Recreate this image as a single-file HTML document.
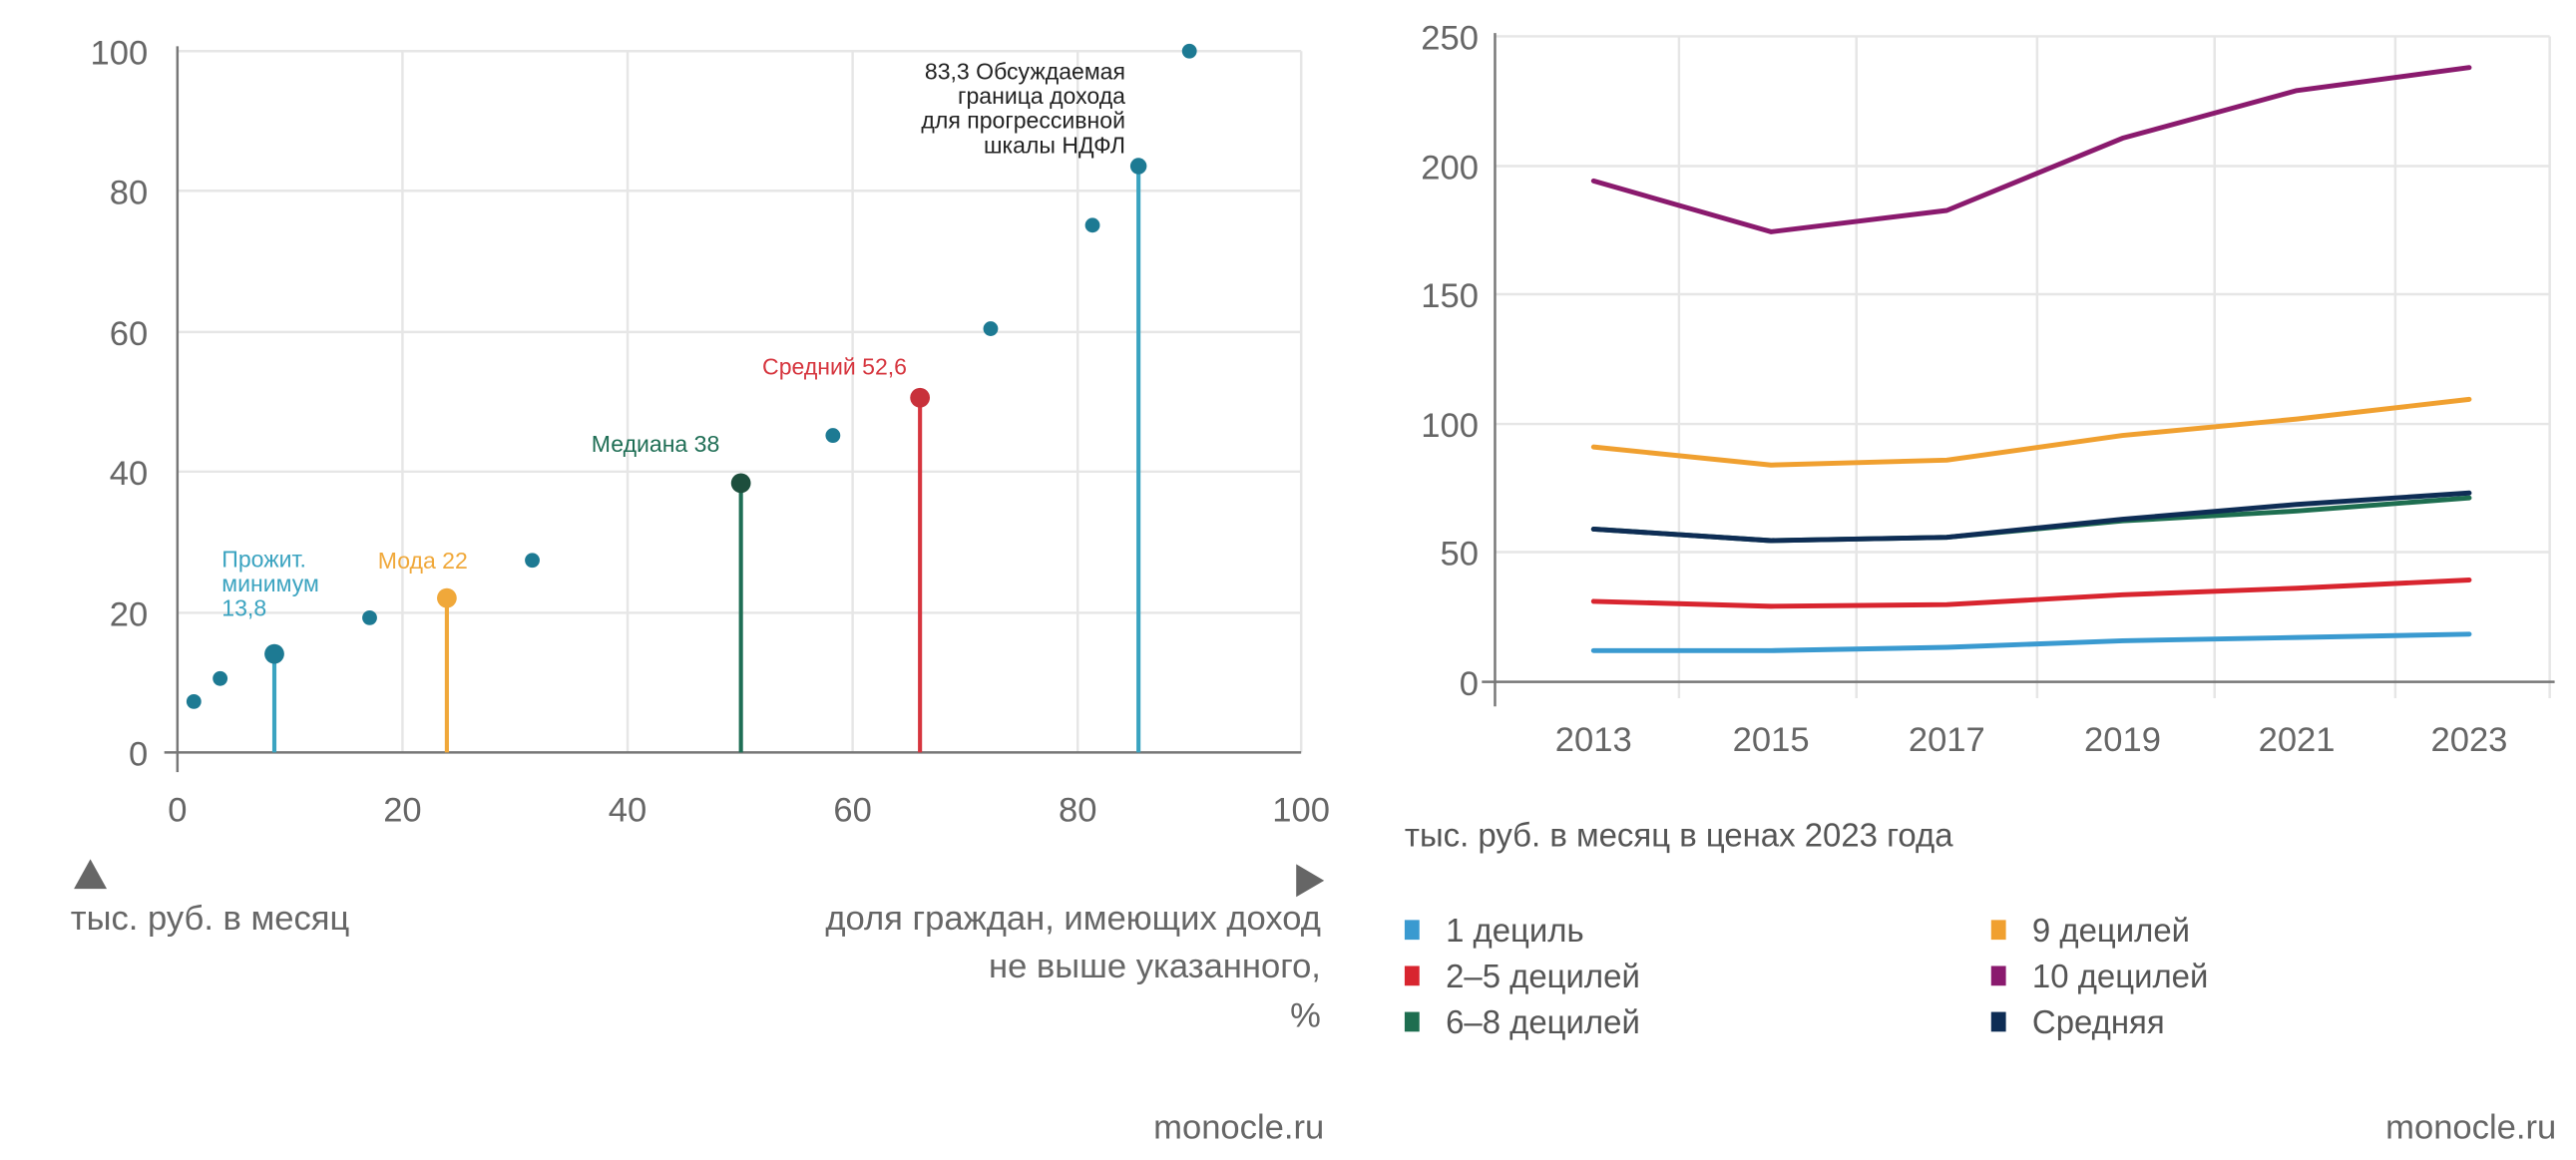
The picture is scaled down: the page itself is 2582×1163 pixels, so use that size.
<!DOCTYPE html>
<html><head><meta charset="utf-8"><style>
html,body{margin:0;padding:0;background:#fff;}
svg{display:block;}
text{font-family:"Liberation Sans","DejaVu Sans",sans-serif;}
</style></head><body>
<svg width="2582" height="1163" viewBox="0 0 1568 706" xmlns="http://www.w3.org/2000/svg">
<rect width="1568" height="706" fill="#fff"/>
<!-- LEFT CHART -->
<g stroke="#e6e6e6" stroke-width="1.5">
<line x1="108" y1="31" x2="792" y2="31"/><line x1="108" y1="116" x2="792" y2="116"/>
<line x1="108" y1="202" x2="792" y2="202"/><line x1="108" y1="287" x2="792" y2="287"/>
<line x1="108" y1="373" x2="792" y2="373"/>
<line x1="245" y1="31" x2="245" y2="458"/><line x1="382" y1="31" x2="382" y2="458"/>
<line x1="519" y1="31" x2="519" y2="458"/><line x1="656" y1="31" x2="656" y2="458"/>
<line x1="792" y1="31" x2="792" y2="458"/>
</g>
<line x1="108" y1="28" x2="108" y2="470" stroke="#777" stroke-width="1.5"/>
<line x1="100" y1="458" x2="792" y2="458" stroke="#777" stroke-width="1.5"/>
<g font-size="21" fill="#666" text-anchor="end">
<text x="90" y="39">100</text><text x="90" y="124">80</text><text x="90" y="210">60</text>
<text x="90" y="295">40</text><text x="90" y="381">20</text><text x="90" y="466">0</text>
</g>
<g font-size="21" fill="#666" text-anchor="middle">
<text x="108" y="500">0</text><text x="245" y="500">20</text><text x="382" y="500">40</text>
<text x="519" y="500">60</text><text x="656" y="500">80</text><text x="792" y="500">100</text>
</g>
<!-- stems -->
<line x1="167" y1="398" x2="167" y2="458" stroke="#3aa3c0" stroke-width="2.5"/>
<line x1="272" y1="364" x2="272" y2="458" stroke="#f0a83a" stroke-width="2.5"/>
<line x1="451" y1="294" x2="451" y2="458" stroke="#1f6e55" stroke-width="2.5"/>
<line x1="560" y1="242" x2="560" y2="458" stroke="#d6353e" stroke-width="2.5"/>
<line x1="693" y1="101" x2="693" y2="458" stroke="#3aa3c0" stroke-width="2.5"/>
<g fill="#1d7a93">
<circle cx="118" cy="427" r="4.5"/><circle cx="134" cy="413" r="4.5"/>
<circle cx="167" cy="398" r="6"/><circle cx="225" cy="376" r="4.5"/>
<circle cx="324" cy="341" r="4.5"/><circle cx="507" cy="265" r="4.5"/>
<circle cx="603" cy="200" r="4.5"/><circle cx="665" cy="137" r="4.5"/>
<circle cx="693" cy="101" r="5"/><circle cx="724" cy="31" r="4.5"/>
</g>
<circle cx="272" cy="364" r="6" fill="#f0a83a"/>
<circle cx="451" cy="294" r="6" fill="#1d4e3d"/>
<circle cx="560" cy="242" r="6" fill="#c8313b"/>
<g font-size="14">
<text x="135" y="345" fill="#3aa3c0">Прожит.</text>
<text x="135" y="360" fill="#3aa3c0">минимум</text>
<text x="135" y="375" fill="#3aa3c0">13,8</text>
<text x="230" y="346" fill="#f0a83a">Мода 22</text>
<text x="360" y="275" fill="#1f6e55">Медиана 38</text>
<text x="464" y="228" fill="#d6353e">Средний 52,6</text>
<g text-anchor="end" fill="#222">
<text x="685" y="48">83,3 Обсуждаемая</text>
<text x="685" y="63">граница дохода</text>
<text x="685" y="78">для прогрессивной</text>
<text x="685" y="93">шкалы НДФЛ</text>
</g>
</g>
<polygon points="45,541 55,523 65,541" fill="#666"/>
<polygon points="789,526 806,536 789,546" fill="#666"/>
<g font-size="21" fill="#666">
<text x="43" y="566">тыс. руб. в месяц</text>
<g text-anchor="end">
<text x="804" y="566">доля граждан, имеющих доход</text>
<text x="804" y="595">не выше указанного,</text>
<text x="804" y="625">%</text>
<text x="806" y="693">monocle.ru</text>
</g>
</g>
<!-- RIGHT CHART -->
<g stroke="#e6e6e6" stroke-width="1.5">
<line x1="910" y1="22" x2="1552" y2="22"/><line x1="910" y1="101" x2="1552" y2="101"/>
<line x1="910" y1="179" x2="1552" y2="179"/><line x1="910" y1="258" x2="1552" y2="258"/>
<line x1="910" y1="336" x2="1552" y2="336"/>
<line x1="1022" y1="22" x2="1022" y2="425"/><line x1="1130" y1="22" x2="1130" y2="425"/>
<line x1="1240" y1="22" x2="1240" y2="425"/><line x1="1348" y1="22" x2="1348" y2="425"/>
<line x1="1458" y1="22" x2="1458" y2="425"/><line x1="1552" y1="22" x2="1552" y2="425"/>
</g>
<line x1="910" y1="20" x2="910" y2="430" stroke="#777" stroke-width="1.5"/>
<line x1="902" y1="415" x2="1555" y2="415" stroke="#777" stroke-width="1.5"/>
<g font-size="21" fill="#666" text-anchor="end">
<text x="900" y="30">250</text><text x="900" y="109">200</text><text x="900" y="187">150</text>
<text x="900" y="266">100</text><text x="900" y="344">50</text><text x="900" y="423">0</text>
</g>
<g font-size="21" fill="#666" text-anchor="middle">
<text x="970" y="457">2013</text><text x="1078" y="457">2015</text><text x="1185" y="457">2017</text>
<text x="1292" y="457">2019</text><text x="1398" y="457">2021</text><text x="1503" y="457">2023</text>
</g>
<g fill="none" stroke-width="3" stroke-linejoin="round" stroke-linecap="round">
<polyline stroke="#3a9ad0" points="970,396 1078,396 1185,394 1292,390 1398,388 1503,386"/>
<polyline stroke="#d8252f" points="970,366 1078,369 1185,368 1292,362 1398,358 1503,353"/>
<polyline stroke="#1e6e50" points="970,322 1078,329 1185,327 1292,317 1398,311 1503,303"/>
<polyline stroke="#0e2d55" points="970,322 1078,329 1185,327 1292,316 1398,307 1503,300"/>
<polyline stroke="#f0a030" points="970,272 1078,283 1185,280 1292,265 1398,255 1503,243"/>
<polyline stroke="#8a1a6e" points="970,110 1078,141 1185,128 1292,84 1398,55 1503,41"/>
</g>
<g font-size="20" fill="#555">
<text x="855" y="515">тыс. руб. в месяц в ценах 2023 года</text>
<rect x="855" y="560" width="9" height="12" fill="#3a9ad0"/><text x="880" y="573">1 дециль</text>
<rect x="855" y="588" width="9" height="12" fill="#d8252f"/><text x="880" y="601">2–5 децилей</text>
<rect x="855" y="616" width="9" height="12" fill="#1e6e50"/><text x="880" y="629">6–8 децилей</text>
<rect x="1212" y="560" width="9" height="12" fill="#f0a030"/><text x="1237" y="573">9 децилей</text>
<rect x="1212" y="588" width="9" height="12" fill="#8a1a6e"/><text x="1237" y="601">10 децилей</text>
<rect x="1212" y="616" width="9" height="12" fill="#0e2d55"/><text x="1237" y="629">Средняя</text>
<text x="1556" y="693" text-anchor="end" font-size="21" fill="#666">monocle.ru</text>
</g>
</svg>
</body></html>
